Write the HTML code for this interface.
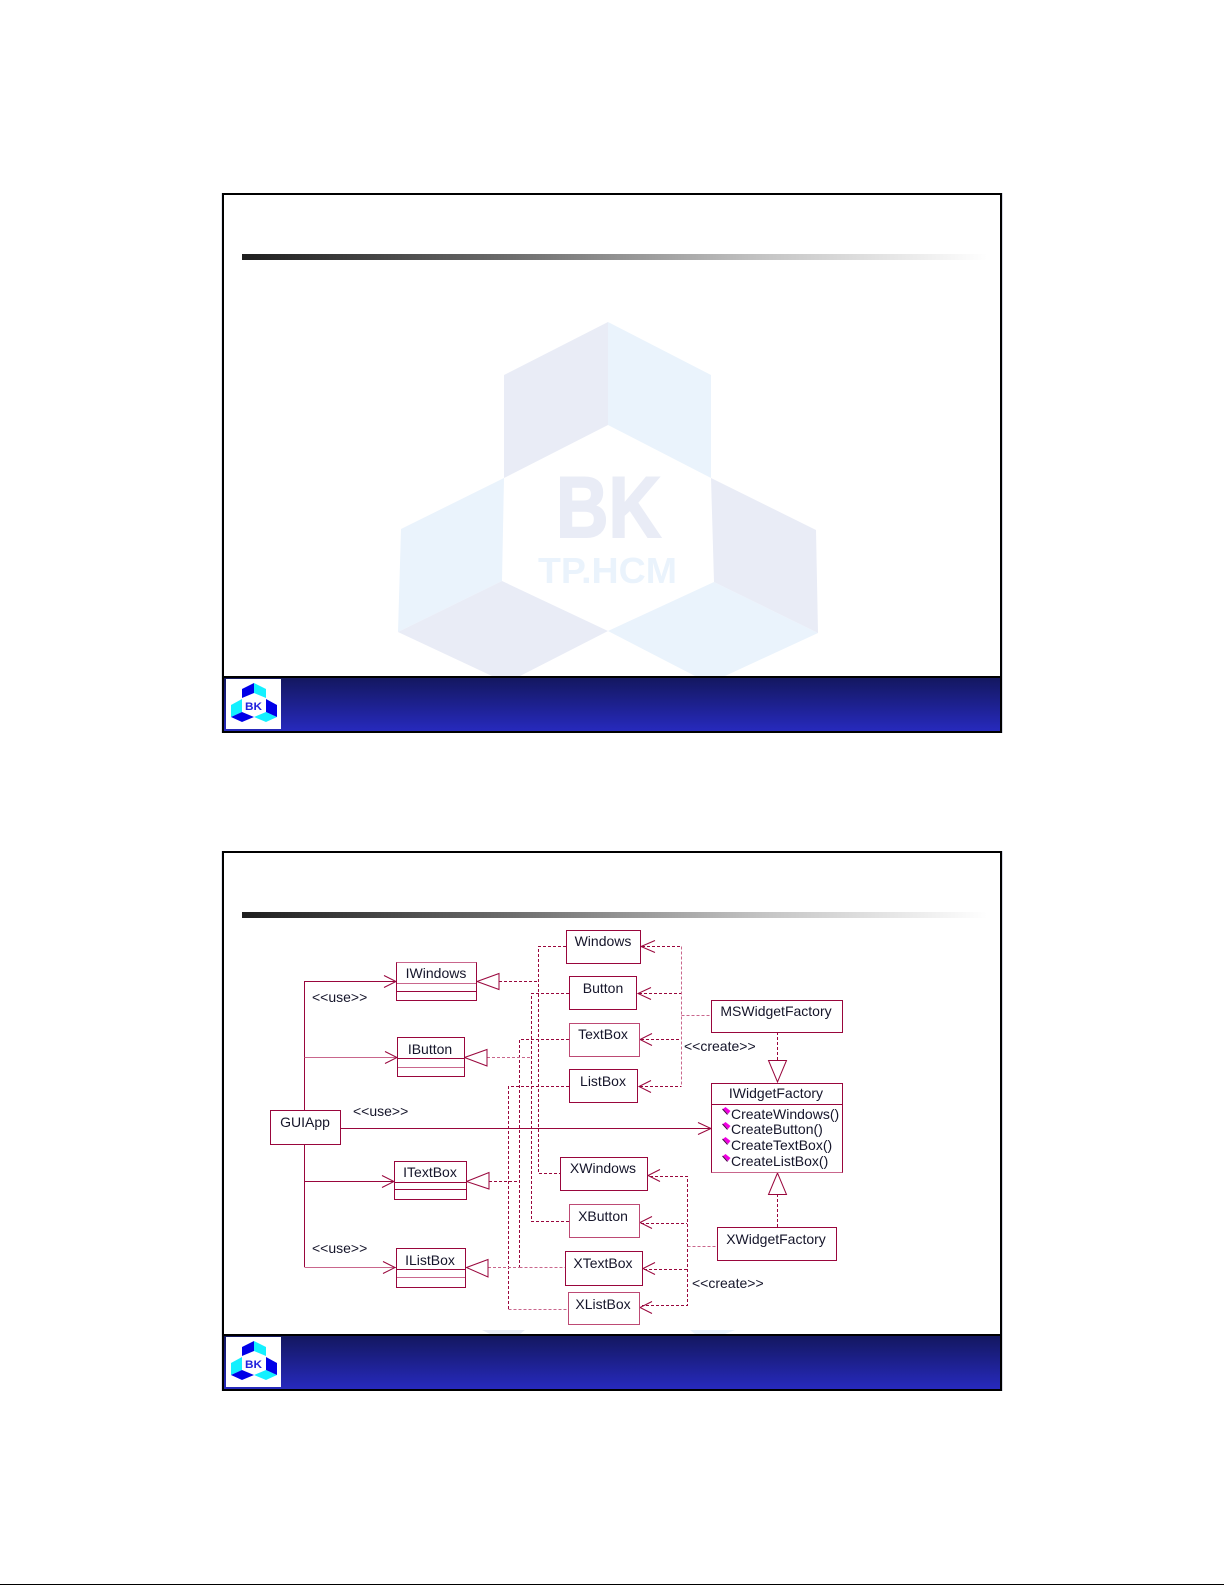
<!DOCTYPE html>
<html><head><meta charset="utf-8"><style>
html,body{margin:0;padding:0;background:#fff}
svg{display:block}
text{font-family:"Liberation Sans",sans-serif;font-size:14px;fill:#15152a}
.m{text-anchor:middle}
.s{fill:none;stroke:#99063c;stroke-width:1;shape-rendering:crispEdges}
.l{fill:none;stroke:#c9668c;stroke-width:1;shape-rendering:crispEdges}
.b{fill:#fff;stroke:#99063c;stroke-width:1;shape-rendering:crispEdges}
.d{fill:none;stroke:#99063c;stroke-width:1;stroke-dasharray:3 2;shape-rendering:crispEdges}
.dl{fill:none;stroke:#c9668c;stroke-width:1;stroke-dasharray:3 2;shape-rendering:crispEdges}
.a{fill:none;stroke:#99063c;stroke-width:1}
.t{fill:#fff;stroke:#99063c;stroke-width:1}
.o{fill:#f000e0}
.o2{fill:none;stroke:#400040;stroke-width:1}
</style></head><body>
<svg xmlns="http://www.w3.org/2000/svg" width="1225" height="1585" viewBox="0 0 1225 1585">
<defs>
<linearGradient id="bar" x1="0" x2="1" y1="0" y2="0"><stop offset="0" stop-color="#1e1e1e"/><stop offset="0.35" stop-color="#6a6a6a"/><stop offset="0.7" stop-color="#c4c4c4"/><stop offset="1" stop-color="#ffffff"/></linearGradient>
<linearGradient id="foot" x1="0" x2="0" y1="0" y2="1"><stop offset="0" stop-color="#13175e"/><stop offset="1" stop-color="#272abf"/></linearGradient>
</defs>
<rect width="1225" height="1585" fill="#fff"/>
<rect x="0" y="1584" width="1224" height="1" fill="#000"/>

<!-- Slide 1 -->
<rect x="1002" y="193" width="1" height="540" fill="#d5d8e4"/>
<rect x="221" y="193" width="1" height="540" fill="#e3e6ef"/>
<g>
<polygon points="608,322 504,375 504,478 608,425" fill="#e9ecf6"/>
<polygon points="608,322 711,375 711,478 608,425" fill="#eaf3fc"/>
<polygon points="504,478 401,529 398,632 502,581" fill="#eaf3fc"/>
<polygon points="398,632 502,581 608,631 520,676 492,676" fill="#e9ecf6"/>
<polygon points="608,631 714,582 818,633 725,676 695,676" fill="#eaf3fc"/>
<polygon points="711,478 816,530 818,633 714,582" fill="#e9ecf6"/>
<text x="556" y="537" textLength="105" lengthAdjust="spacingAndGlyphs" style="font-size:86px;font-weight:bold;fill:#e9ecf6;stroke:#e9ecf6;stroke-width:2">BK</text>
<text x="538" y="583" textLength="139" lengthAdjust="spacingAndGlyphs" style="font-size:36px;font-weight:bold;fill:#eaf3fc">TP.HCM</text>
</g>
<rect x="242" y="254" width="745" height="6" fill="url(#bar)"/>
<rect x="223" y="677" width="778" height="55" fill="url(#foot)"/>
<rect x="223" y="194" width="778" height="538" fill="none" stroke="#000" stroke-width="2"/>
<rect x="222" y="676" width="780" height="2" fill="#000"/>
<rect x="226" y="679" width="55" height="50" fill="#fff"/>
<polygon points="254,683 242,689 242,698 254,693" fill="#0000e8"/>
<polygon points="254,683 266,689 266,698 254,693" fill="#14f0ff"/>
<polygon points="242,699 231,705 231,717 242,712" fill="#14f0ff"/>
<polygon points="231,717 242,712 254,717 242,722" fill="#0000e8"/>
<polygon points="254,717 266,712 277,717 266,722" fill="#14f0ff"/>
<polygon points="266,699 277,705 277,717 266,712" fill="#0000e8"/>
<text x="245" y="710" textLength="17" lengthAdjust="spacingAndGlyphs" style="font-size:11px;font-weight:bold;fill:#2222dd">BK</text>

<!-- Slide 2 -->
<rect x="1002" y="851" width="1" height="540" fill="#d5d8e4"/>
<rect x="221" y="851" width="1" height="540" fill="#e3e6ef"/>
<polygon points="482,1330 525,1330 520,1334 490,1334" fill="#e9ecf6"/>
<polygon points="690,1330 735,1330 725,1334 695,1334" fill="#eaf3fc"/>
<rect x="242" y="912" width="745" height="6" fill="url(#bar)"/>
<rect x="223" y="1335" width="778" height="55" fill="url(#foot)"/>
<rect x="223" y="852" width="778" height="538" fill="none" stroke="#000" stroke-width="2"/>
<rect x="222" y="1334" width="780" height="2" fill="#000"/>
<rect x="226" y="1337" width="55" height="50" fill="#fff"/>
<polygon points="254,1341 242,1347 242,1356 254,1351" fill="#0000e8"/>
<polygon points="254,1341 266,1347 266,1356 254,1351" fill="#14f0ff"/>
<polygon points="242,1357 231,1363 231,1375 242,1370" fill="#14f0ff"/>
<polygon points="231,1375 242,1370 254,1375 242,1380" fill="#0000e8"/>
<polygon points="254,1375 266,1370 277,1375 266,1380" fill="#14f0ff"/>
<polygon points="266,1357 277,1363 277,1375 266,1370" fill="#0000e8"/>
<text x="245" y="1368" textLength="17" lengthAdjust="spacingAndGlyphs" style="font-size:11px;font-weight:bold;fill:#2222dd">BK</text>

<!-- Solid connectors -->
<path class="s" d="M304.5 1110V981.5H396"/>
<path class="l" d="M304.5 1057.5H397"/>
<path class="s" d="M341 1128.5H711"/>
<path class="s" d="M304.5 1145V1267"/>
<path class="s" d="M304.5 1181.5H394"/>
<path class="l" d="M304.5 1267.5H396"/>
<polyline class="a" points="384,975.5 396,981.5 384,987.5"/>
<polyline class="a" points="385,1051.5 397,1057.5 385,1063.5"/>
<polyline class="a" points="382,1175.5 394,1181.5 382,1187.5"/>
<polyline class="a" points="383,1261.5 395,1267.5 383,1273.5"/>
<polyline class="a" points="698,1122.5 711,1128.5 698,1134.5"/>

<!-- Dashed verticals -->
<path class="d" d="M566 946.5H538.5V1173.5H560"/>
<path class="d" d="M569 993.5H531.5V1221.5H569"/>
<path class="d" d="M569 1039.5H519.5V1267.5"/>
<path class="dl" d="M519.5 1267.5H565"/>
<path class="d" d="M569 1086.5H508.5V1309.5"/>
<path class="dl" d="M508.5 1309.5H568"/>
<path class="d" d="M499 981.5H538"/>
<path class="dl" d="M487 1057.5H531"/>
<path class="d" d="M489 1181.5H519"/>
<path class="dl" d="M488 1267.5H519"/>

<!-- Right bus top -->
<path class="d" d="M642 946.5H681.5"/>
<path class="dl" d="M681.5 946.5V1086.5"/>
<path class="d" d="M639 993.5H681"/>
<path class="d" d="M641 1039.5H681"/>
<path class="d" d="M640 1086.5H681.5"/>
<path class="dl" d="M681.5 1015.5H711"/>
<polyline class="a" points="655,940.5 641,946.5 655,952.5"/>
<polyline class="a" points="651,987.5 638,993.5 651,999.5"/>
<polyline class="a" points="652,1033.5 640,1039.5 652,1045.5"/>
<polyline class="a" points="651,1080.5 639,1086.5 651,1092.5"/>

<!-- Right bus bottom -->
<path class="d" d="M650 1176.5H687.5V1305.5H642"/>
<path class="d" d="M641 1223.5H687"/>
<path class="d" d="M644 1269.5H687"/>
<path class="dl" d="M687.5 1246.5H717"/>
<polyline class="a" points="660,1169.5 648,1175.5 660,1181.5"/>
<polyline class="a" points="652,1216.5 640,1222.5 652,1228.5"/>
<polyline class="a" points="655,1262.5 643,1268.5 655,1274.5"/>
<polyline class="a" points="652,1301.5 640,1307.5 652,1313.5"/>

<!-- Factory inherit -->
<path class="d" d="M777.5 1032V1060"/>
<path class="d" d="M777.5 1194V1227"/>
<polygon class="t" points="768.5,1060.5 786.5,1060.5 777.5,1082"/>
<polygon class="t" points="777.5,1173 768.5,1194.5 786.5,1194.5"/>

<!-- Triangles -->
<polygon class="t" points="477,981.5 499,973.5 499,989.5"/>
<polygon class="t" points="464.5,1057.5 487,1049.5 487,1066"/>
<polygon class="t" points="466.5,1181.5 489,1172.5 489,1189"/>
<polygon class="t" points="466.5,1267.5 488,1259.5 488,1277"/>

<!-- Boxes -->
<rect class="b" x="566.5" y="930.5" width="74" height="33"/>
<rect class="b" x="569.5" y="976.5" width="67" height="33"/>
<rect class="b" x="569.5" y="1023.5" width="70" height="33" style="stroke:#bd4a74"/>
<rect class="b" x="569.5" y="1069.5" width="68" height="33"/>
<rect class="b" x="560.5" y="1157.5" width="87" height="33"/>
<rect class="b" x="569.5" y="1204.5" width="70" height="33" style="stroke:#bd4a74"/>
<rect class="b" x="565.5" y="1251.5" width="77" height="34"/>
<rect class="b" x="568.5" y="1292.5" width="71" height="32" style="stroke:#bd4a74"/>
<rect class="b" x="270.5" y="1110.5" width="70" height="34"/>

<rect class="b" x="396.5" y="962.5" width="80" height="38"/>
<path class="l" d="M396.5 962.5H476.5M397 983.5H476"/><path class="s" d="M397 991.5H476"/>
<rect class="b" x="397.5" y="1037.5" width="67" height="39"/>
<path class="s" d="M398 1058.5H464"/><path class="l" d="M398 1067.5H464"/>
<rect class="b" x="394.5" y="1161.5" width="72" height="38"/>
<path class="s" d="M395 1182.5H466M395 1189.5H466"/>
<rect class="b" x="396.5" y="1248.5" width="69" height="39"/>
<path class="s" d="M397 1269.5H465"/><path class="l" d="M397 1277.5H465"/>

<rect class="b" x="711.5" y="1000.5" width="131" height="32"/>
<rect class="b" x="711.5" y="1083.5" width="131" height="89"/>
<path class="s" d="M712 1104.5H842"/>
<path class="l" d="M711.5 1172.5H842.5"/>
<rect class="b" x="717.5" y="1227.5" width="119" height="33"/>

<!-- Labels -->
<text class="m" x="603" y="946">Windows</text>
<text class="m" x="603" y="993">Button</text>
<text class="m" x="603" y="1039">TextBox</text>
<text class="m" x="603" y="1086">ListBox</text>
<text class="m" x="603" y="1173">XWindows</text>
<text class="m" x="603" y="1221">XButton</text>
<text class="m" x="603" y="1268">XTextBox</text>
<text class="m" x="603" y="1309">XListBox</text>
<text class="m" x="436" y="978">IWindows</text>
<text class="m" x="430" y="1054">IButton</text>
<text class="m" x="430" y="1177">ITextBox</text>
<text class="m" x="430" y="1265">IListBox</text>
<text class="m" x="305" y="1127">GUIApp</text>
<text class="m" x="776" y="1016">MSWidgetFactory</text>
<text class="m" x="776" y="1098">IWidgetFactory</text>
<text class="m" x="776" y="1244">XWidgetFactory</text>
<text x="312" y="1002">&lt;&lt;use&gt;&gt;</text>
<text x="353" y="1116">&lt;&lt;use&gt;&gt;</text>
<text x="312" y="1253">&lt;&lt;use&gt;&gt;</text>
<text x="684" y="1051">&lt;&lt;create&gt;&gt;</text>
<text x="692" y="1288">&lt;&lt;create&gt;&gt;</text>
<text x="731" y="1119">CreateWindows()</text>
<text x="731" y="1134">CreateButton()</text>
<text x="731" y="1150">CreateTextBox()</text>
<text x="731" y="1166">CreateListBox()</text>
<polygon class="o" points="723,1109 725.5,1107 730.5,1111 728,1114"/><polyline class="o2" points="722.5,1109 727.5,1114.5"/>
<polygon class="o" points="723,1124 725.5,1122 730.5,1126 728,1129"/><polyline class="o2" points="722.5,1124 727.5,1129.5"/>
<polygon class="o" points="723,1139 725.5,1137 730.5,1141 728,1144"/><polyline class="o2" points="722.5,1139 727.5,1144.5"/>
<polygon class="o" points="723,1156 725.5,1154 730.5,1158 728,1161"/><polyline class="o2" points="722.5,1156 727.5,1161.5"/>
</svg>
</body></html>
